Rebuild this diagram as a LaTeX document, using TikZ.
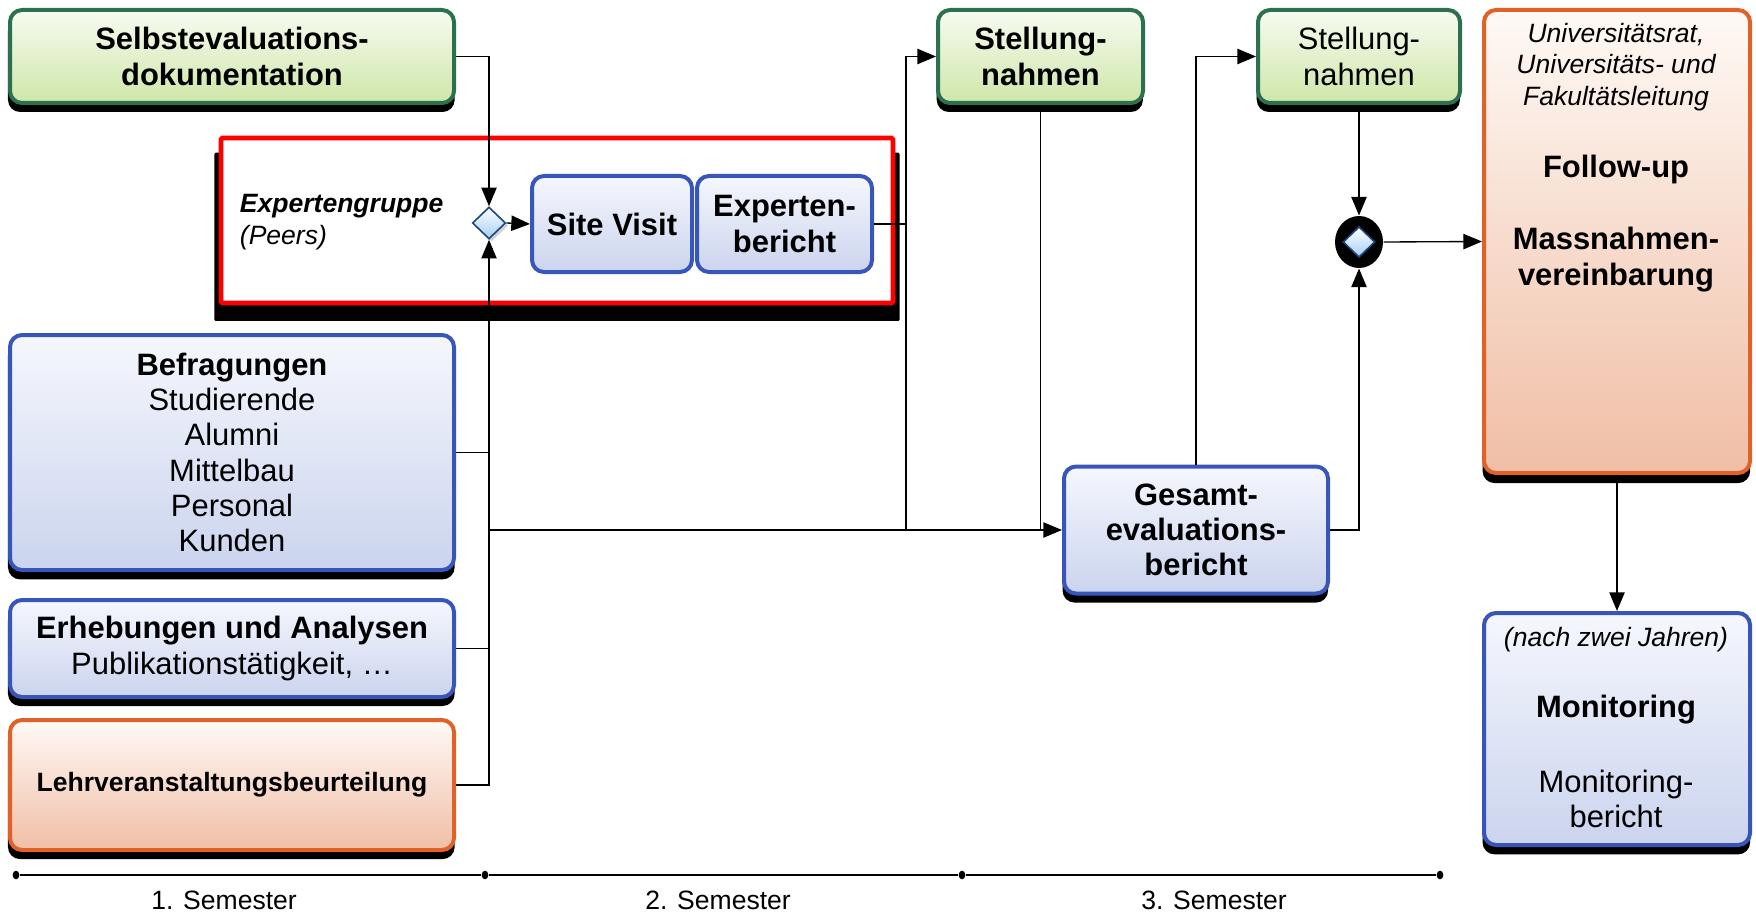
\documentclass[tikz,border=0pt]{standalone}
\usepackage{fontspec}
\setmainfont{Liberation Sans}
\usetikzlibrary{shapes.geometric,shadows,arrows.meta}

\definecolor{grnline}{RGB}{44,112,80}
\definecolor{grntop}{RGB}{247,251,241}
\definecolor{grnbot}{RGB}{206,230,168}
\definecolor{bluline}{RGB}{56,86,186}
\definecolor{blutop}{RGB}{245,247,253}
\definecolor{blubot}{RGB}{203,212,238}
\definecolor{orgline}{RGB}{224,98,40}
\definecolor{orgtop}{RGB}{254,249,245}
\definecolor{orgbot}{RGB}{240,190,165}
\definecolor{gateline}{RGB}{30,70,125}
\definecolor{gateblue}{RGB}{165,206,245}

\tikzset{every picture/.style={line width=0.75pt}}
\tikzset{
  bigfont/.style={font=\fontsize{23.2}{26.4}\selectfont},
  bigbold/.style={font=\fontsize{23.2}{26.4}\selectfont\bfseries},
  smallfont/.style={font=\fontsize{19.9}{23.6}\selectfont},
  smallit/.style={font=\fontsize{19.9}{23.6}\selectfont\itshape},
  procbox/.style={draw, line width=3pt, rounded corners=9pt, inner sep=0pt, align=center, bigfont},
  boxshadow/.style={drop shadow={shadow xshift=-0.5pt, shadow yshift=-6.5pt, shadow scale=1.006, fill=black, opacity=1}},
  greenbox/.style={procbox, boxshadow, draw=grnline, top color=grntop, bottom color=grnbot},
  bluebox/.style={procbox, draw=bluline, top color=blutop, bottom color=blubot},
  orangebox/.style={procbox, boxshadow, draw=orgline, top color=orgtop, bottom color=orgbot},
  groupbox/.style={draw=red, line width=3.5pt, fill=white, rounded corners=1pt,
    drop shadow={shadow xshift=0pt, shadow yshift=-12pt, shadow scale=1.02, fill=black, opacity=1}},
  gate/.style={diamond, draw=gateline, line width=1.2pt, top color=white, bottom color=gateblue,
    minimum width=25pt, minimum height=24pt, inner sep=0pt},
  gateback/.style={ellipse, fill=black, minimum width=36pt, minimum height=39pt, inner sep=0pt},
  flow/.style={line width=1pt},
  flowarr/.style={flow, -{Triangle[length=14pt,width=11.5pt]}},
  semdot/.style={ellipse, fill=black, inner sep=0pt, minimum width=5pt, minimum height=6.5pt},
  timeline/.style={line width=1.5pt},
}

\begin{document}
\begin{tikzpicture}[x=0.75pt,y=0.75pt,yscale=-1,xscale=1]
\useasboundingbox (0,0) rectangle (1756,913);

%Shape: Rounded Rect [Selbstevaluation]
\node[greenbox, bigbold, minimum width=333pt, minimum height=69.75pt] (selbst) at (232,56.5) {Selbstevaluations-\\dokumentation};

%Shape: Rect [Expertengruppe]
\node[groupbox, minimum width=504pt, minimum height=123.75pt] (experts) at (557,220.5) {};
% Text Node
\node[smallfont, anchor=west, align=left] (peers) at (235,222) {\textbf{\textit{Expertengruppe}}\\\textit{(Peers)}};

%Shape: Diamond
\node[gate, drop shadow={opacity=0.35, shadow xshift=2pt, shadow yshift=-2pt}] (gate1) at (489,223) {};

%Shape: Rounded Rect [Site Visit]
\node[bluebox, bigbold, minimum width=120pt, minimum height=72pt] (visit) at (612,224) {Site Visit};
%Shape: Rounded Rect [Expertenbericht]
\node[bluebox, bigbold, minimum width=131.25pt, minimum height=72pt] (report) at (784.5,224) {Experten-\\bericht};

%Shape: Rounded Rect [Befragungen]
\node[bluebox, boxshadow, minimum width=333pt, minimum height=176.25pt] (befrag) at (232,452.5) {\textbf{Befragungen}\\Studierende\\Alumni\\Mittelbau\\Personal\\Kunden};
%Shape: Rounded Rect [Erhebungen]
\node[bluebox, boxshadow, minimum width=333pt, minimum height=72.75pt] (erheb) at (232,648.5) {\textbf{Erhebungen und Analysen}\\Publikationstätigkeit, \ldots};
%Shape: Rounded Rect [Lehrveranstaltungen]
\node[orangebox, smallfont, minimum width=333pt, minimum height=97.5pt] (lehr) at (232,785) {\textbf{Lehrveranstaltungsbeurteilung}};

%Shape: Rounded Rect [Stellungnahmen]
\node[greenbox, bigbold, minimum width=153.75pt, minimum height=69.75pt] (stell1) at (1040.5,56.5) {Stellung-\\nahmen};
\node[greenbox, minimum width=151.5pt, minimum height=69.75pt] (stell2) at (1359,56.5) {Stellung-\\nahmen};

%Shape: Rounded Rect [Gesamtbericht]
\node[bluebox, boxshadow, bigbold, minimum width=198pt, minimum height=95.25pt] (total) at (1196,530) {Gesamt-\\evaluations-\\bericht};

%Shape: Diamond [schwarz]
\node[gateback] (gate2) at (1359,242) {};
\node[gate, minimum width=24pt, minimum height=23pt] (gate2d) at (gate2) {};

%Shape: Rounded Rect [Follow-up]
\node[orangebox, minimum width=199.5pt, minimum height=347.25pt] (follow) at (1617,241.5) {};
% Text Node
\node[smallit, align=center] (board) at (1616,67) {Universitätsrat,\\Universitäts- und\\Fakultätsleitung};
% Text Node
\node[bigbold] (fup) at (1616,170) {Follow-up};
% Text Node
\node[bigbold, align=center] (measures) at (1616,259.5) {Massnahmen-\\vereinbarung};

%Shape: Rounded Rect [Monitoring]
\node[bluebox, boxshadow, minimum width=199.5pt, minimum height=174pt] (monitor) at (1617,729) {};
% Text Node
\node[smallit] (twoyears) at (1616,640) {(nach zwei Jahren)};
% Text Node
\node[bigbold] (monhead) at (1616,710) {Monitoring};
% Text Node
\node[bigfont, align=center] (monrep) at (1616,799) {Monitoring-\\bericht};

%Straight Lines
\coordinate (split) at (906,224);
\draw[flowarr] (selbst.east) -| (gate1.north);
\draw[flowarr] (lehr.east) -| (gate1.south);
\draw[flow] (befrag.east) -- (befrag.east -| gate1.south);
\draw[flow] (erheb.east) -- (erheb.east -| gate1.south);
\draw[flowarr] (gate1.east) -- (visit.west);
\draw[flowarr] (total.west -| gate1.south) -- (total.west);
\draw[flow] (report.east) -- (split);
\draw[flowarr] (split |- total.west) |- (stell1.west);
\draw[flow] (stell1.south) -- (stell1.south |- total.west);
\draw[flowarr] (total.north) |- (stell2.west);
\draw[flowarr] (stell2.south) -- (gate2.north);
\draw[flowarr] (total.east) -| (gate2.south);
\draw[flowarr] (gate2.east) -- (follow.west);
\draw[flowarr] (follow.south) -- (monitor.north);

%Time Line
\node[semdot] (t1) at (16,875) {};
\node[semdot] (t2) at (485,875) {};
\node[semdot] (t3) at (962,875) {};
\node[semdot] (t4) at (1440,875) {};
\draw[timeline] (t1) -- (t2) -- (t3) -- (t4);
% Text Node
\node[smallfont] (sem1) at (224,900) {1. Semester};
% Text Node
\node[smallfont] (sem2) at (718,900) {2. Semester};
% Text Node
\node[smallfont] (sem3) at (1214,900) {3. Semester};

\end{tikzpicture}
\end{document}
